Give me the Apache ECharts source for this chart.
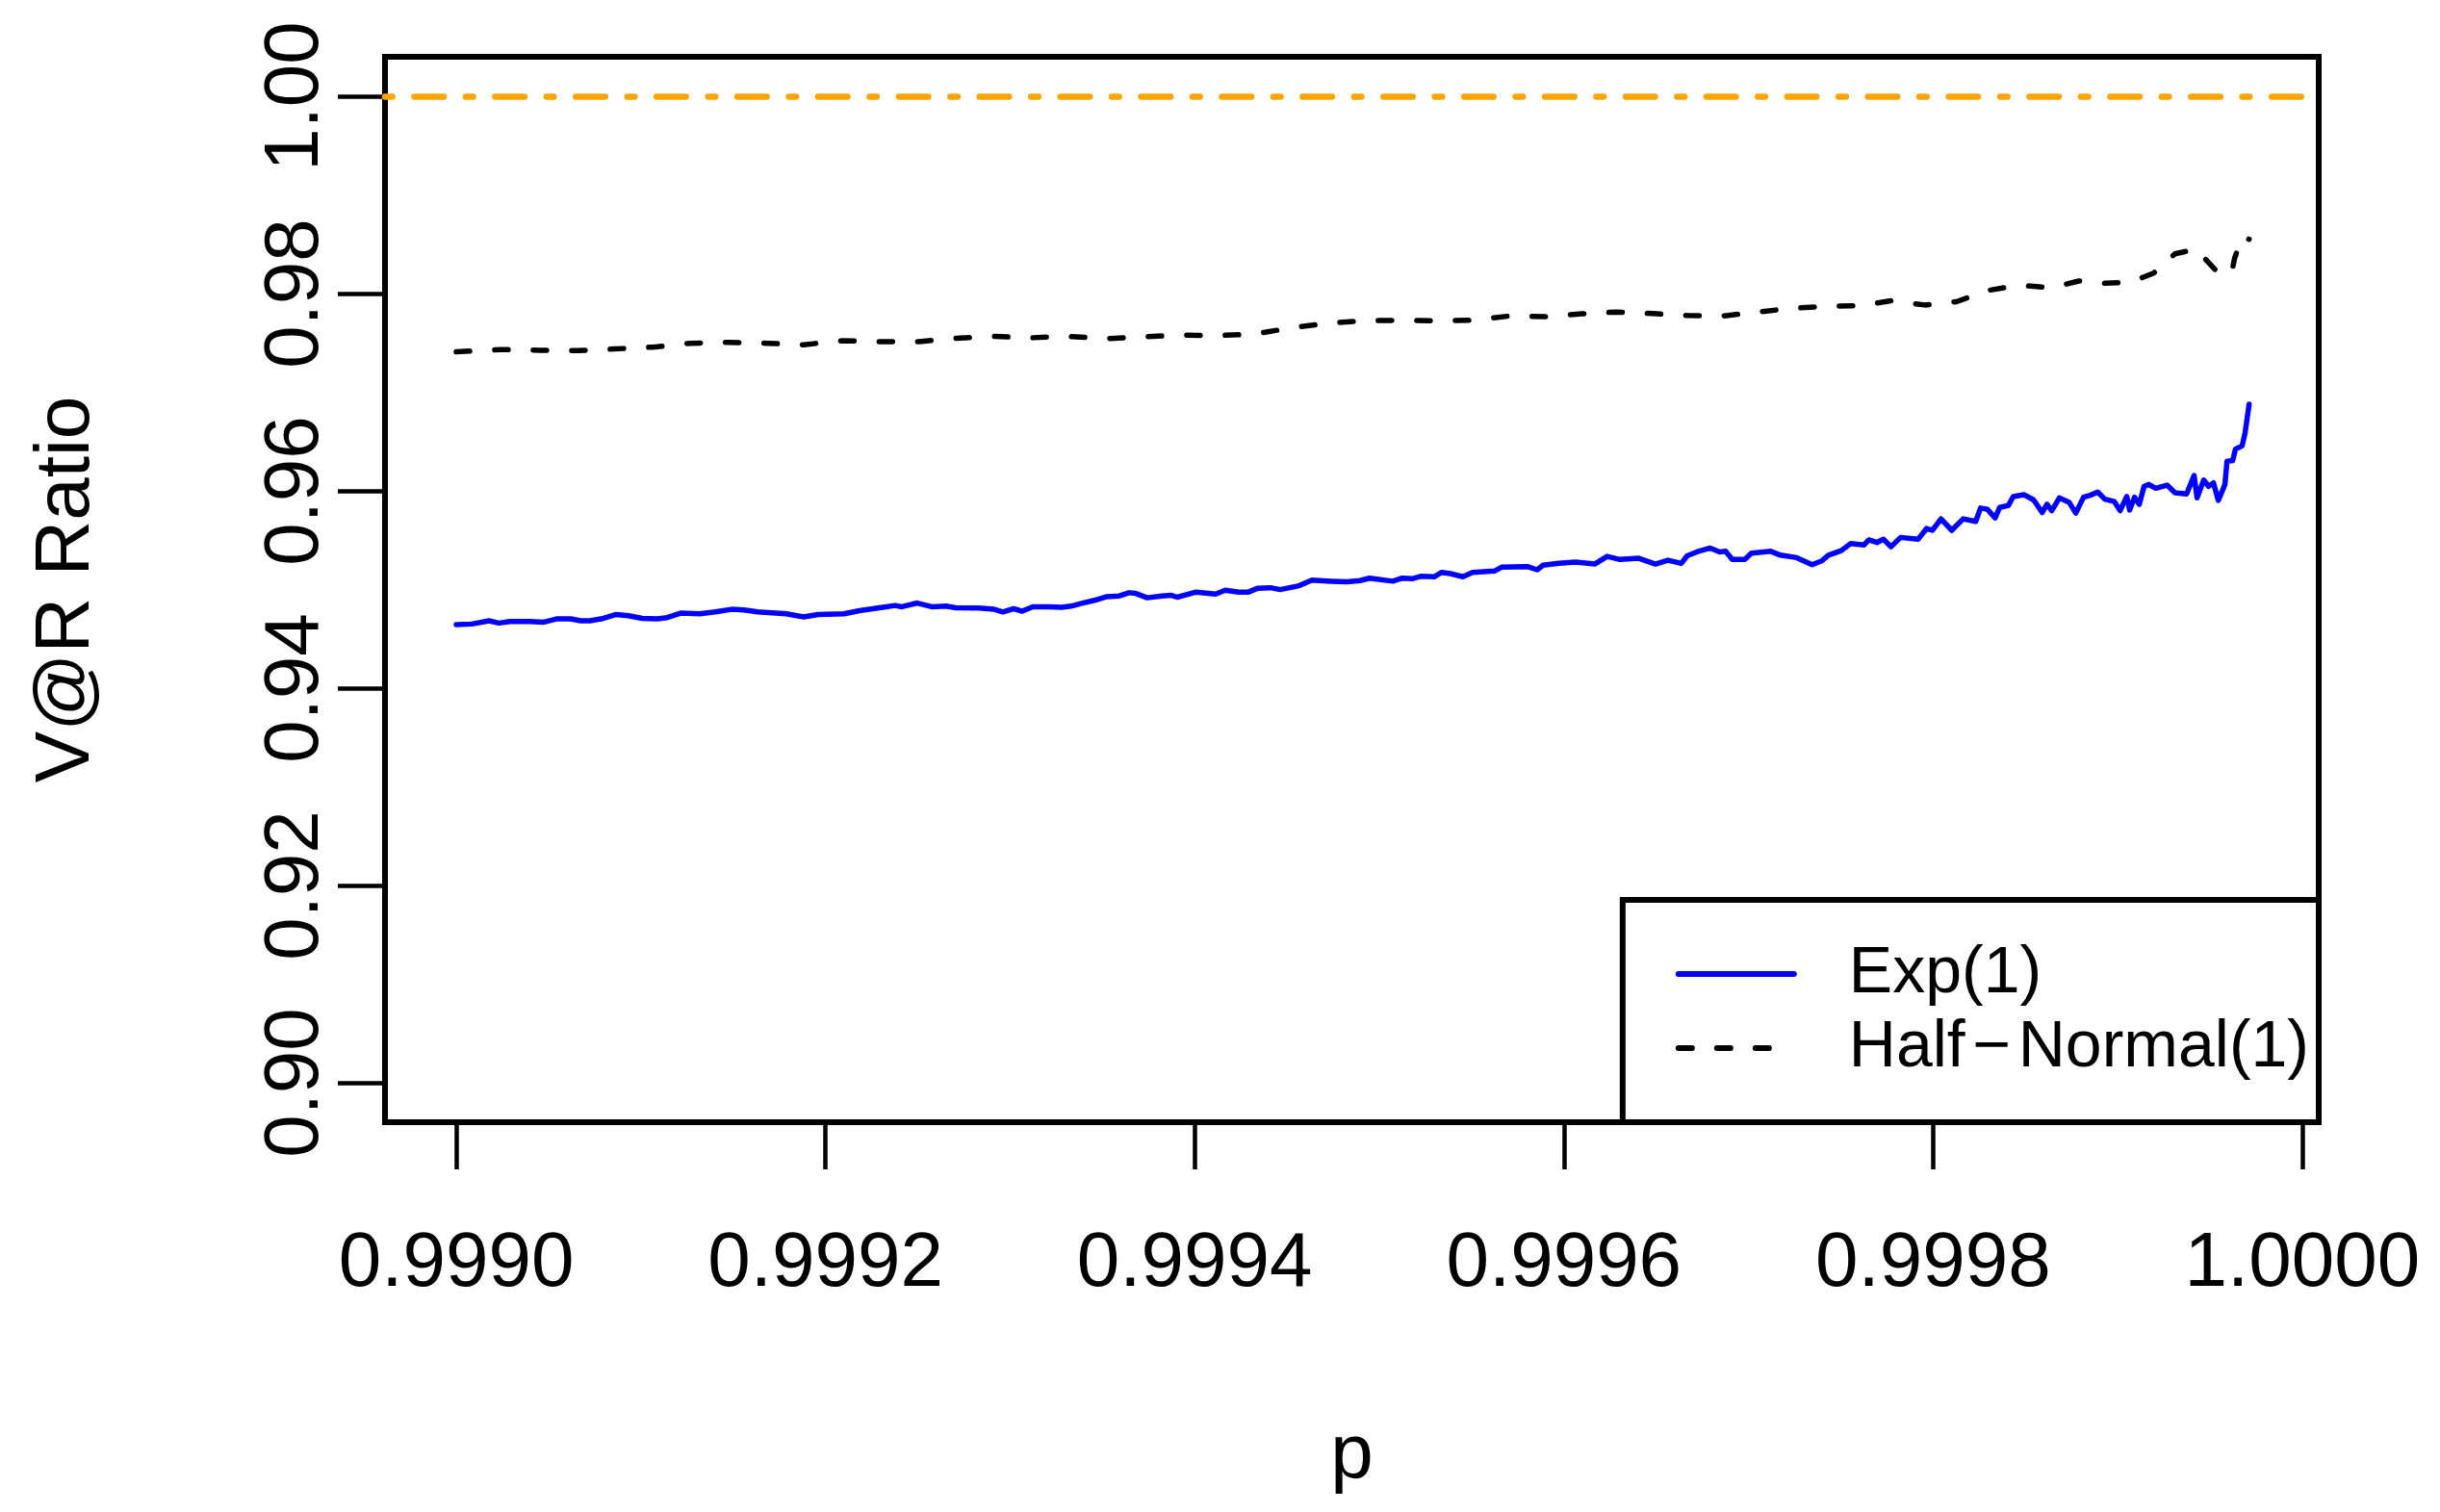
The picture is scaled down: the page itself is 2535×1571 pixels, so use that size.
<!DOCTYPE html>
<html>
<head>
<meta charset="utf-8">
<script src="https://cdn.jsdelivr.net/npm/echarts@6/dist/echarts.min.js"></script>
<style>
html,body{margin:0;padding:0;background:#fff;}
#c{width:2535px;height:1571px;}
</style>
</head>
<body>
<div id="c"></div>
<script>
// ---- data ----
const seriesNames = ['Exp(1)', 'Half\u2212Normal(1)'];
const xTicks = [0.9990, 0.9992, 0.9994, 0.9996, 0.9998, 1.0000];
const yTicks = [0.90, 0.92, 0.94, 0.96, 0.98, 1.00];
const refValue = 1.00;

const expP = [0.9990000,0.9990084,0.9990178,0.9990230,0.9990292,0.9990397,0.9990475,0.9990542,0.9990621,0.9990673,
0.9990725,0.9990798,0.9990866,0.9990933,0.9991007,0.9991090,0.9991142,0.9991215,0.9991319,0.9991403,
0.9991491,0.9991559,0.9991632,0.9991788,0.9991882,0.9991960,0.9992101,0.9992184,0.9992310,0.9992377,
0.9992414,0.9992497,0.9992575,0.9992654,0.9992706,0.9992831,0.9992914,0.9992961,0.9993019,0.9993066,
0.9993123,0.9993212,0.9993279,0.9993331,0.9993383,0.9993457,0.9993524,0.9993592,0.9993644,0.9993681,
0.9993743,0.9993822,0.9993874,0.9993905,0.9994008,0.9994113,0.9994165,0.9994239,0.9994291,0.9994342,
0.9994410,0.9994463,0.9994566,0.9994635,0.9994739,0.9994827,0.9994895,0.9994947,0.9995073,0.9995124,
0.9995182,0.9995228,0.9995297,0.9995338,0.9995385,0.9995453,0.9995505,0.9995624,0.9995662,0.9995802,
0.9995855,0.9995886,0.9995974,0.9996063,0.9996167,0.9996234,0.9996303,0.9996406,0.9996496,0.9996563,
0.9996636,0.9996668,0.9996720,0.9996792,0.9996844,0.9996876,0.9996912,0.9996980,0.9997016,0.9997121,
0.9997173,0.9997261,0.9997345,0.9997397,0.9997433,0.9997502,0.9997553,0.9997626,0.9997652,0.9997695,
0.9997731,0.9997772,0.9997824,0.9997919,0.9997965,0.9997996,0.9998043,0.9998101,0.9998163,0.9998231,
0.9998257,0.9998294,0.9998336,0.9998361,0.9998408,0.9998434,0.9998492,0.9998544,0.9998591,0.9998617,
0.9998643,0.9998684,0.9998737,0.9998773,0.9998815,0.9998851,0.9998892,0.9998930,0.9998982,0.9999013,
0.9999049,0.9999065,0.9999091,0.9999117,0.9999143,0.9999169,0.9999206,0.9999268,0.9999310,0.9999373,
0.9999414,0.9999430,0.9999466,0.9999492,0.9999519,0.9999545,0.9999581,0.9999592,0.9999623,0.9999638,
0.9999674,0.9999690,0.9999712];
const expV = [0.94644,0.94650,0.94683,0.94660,0.94676,0.94676,0.94669,0.94702,0.94702,0.94683,
0.94683,0.94708,0.94747,0.94734,0.94708,0.94702,0.94715,0.94760,0.94754,0.94773,
0.94799,0.94793,0.94773,0.94754,0.94722,0.94747,0.94754,0.94786,0.94819,0.94838,
0.94825,0.94863,0.94825,0.94831,0.94815,0.94812,0.94799,0.94773,0.94805,0.94780,
0.94825,0.94825,0.94819,0.94831,0.94858,0.94890,0.94928,0.94935,0.94967,0.94960,
0.94916,0.94935,0.94941,0.94922,0.94974,0.94954,0.94993,0.94974,0.94974,0.95013,
0.95018,0.94999,0.95038,0.95096,0.95084,0.95077,0.95090,0.95115,0.95084,0.95115,
0.95110,0.95135,0.95129,0.95174,0.95161,0.95129,0.95174,0.95187,0.95226,0.95232,
0.95200,0.95246,0.95265,0.95278,0.95258,0.95336,0.95304,0.95316,0.95258,0.95297,
0.95265,0.95342,0.95381,0.95420,0.95381,0.95387,0.95304,0.95304,0.95368,0.95387,
0.95348,0.95323,0.95251,0.95290,0.95348,0.95394,0.95465,0.95452,0.95503,0.95476,
0.95509,0.95433,0.95528,0.95509,0.95619,0.95600,0.95716,0.95600,0.95716,0.95690,
0.95826,0.95813,0.95726,0.95832,0.95852,0.95942,0.95961,0.95910,0.95780,0.95864,
0.95799,0.95929,0.95884,0.95774,0.95935,0.95955,0.95988,0.95916,0.95891,0.95799,
0.95942,0.95806,0.95935,0.95864,0.96046,0.96065,0.96026,0.96058,0.95981,0.95968,
0.96155,0.95929,0.96110,0.96046,0.96081,0.95903,0.96065,0.96300,0.96306,0.96423,
0.96456,0.96587,0.96878];

const hnP = [0.9990000,0.9990240,0.9990449,0.9990657,0.9990855,0.9991064,0.9991267,0.9991476,0.9991684,0.9991882,
0.9992091,0.9992289,0.9992508,0.9992701,0.9992899,0.9993107,0.9993305,0.9993509,0.9993707,0.9993915,
0.9994113,0.9994316,0.9994509,0.9994708,0.9994906,0.9995104,0.9995307,0.9995505,0.9995703,0.9995896,
0.9996094,0.9996287,0.9996480,0.9996668,0.9996860,0.9997053,0.9997240,0.9997433,0.9997616,0.9997772,
0.9997955,0.9998127,0.9998294,0.9998460,0.9998643,0.9998789,0.9998930,0.9999075,0.9999195,0.9999310,
0.9999425,0.9999529,0.9999617,0.9999633,0.9999674,0.9999712];
const hnV = [0.97409,0.97432,0.97425,0.97422,0.97438,0.97457,0.97496,0.97506,0.97496,0.97481,
0.97522,0.97513,0.97513,0.97545,0.97568,0.97551,0.97568,0.97542,0.97561,0.97578,
0.97574,0.97587,0.97648,0.97697,0.97723,0.97729,0.97723,0.97729,0.97772,0.97765,
0.97794,0.97813,0.97797,0.97777,0.97772,0.97813,0.97852,0.97871,0.97878,0.97927,
0.97884,0.97917,0.98030,0.98085,0.98059,0.98127,0.98104,0.98117,0.98208,0.98402,
0.98451,0.98240,0.98201,0.98356,0.98580,0.98550];

// ---- chart ----
const FONT = '"Liberation Sans", Arial, Helvetica, sans-serif';
const chart = echarts.init(document.getElementById('c'), null, {renderer: 'canvas'});
const expData = expP.map((p, i) => [p, expV[i]]);
const hnData = hnP.map((p, i) => [p, hnV[i]]);

chart.setOption({
  animation: false,
  backgroundColor: '#ffffff',
  grid: {
    left: 400, right: 126, top: 59, bottom: 405,
    show: true, borderColor: '#000', borderWidth: 6, backgroundColor: 'transparent',
    containLabel: false, outerBoundsMode: 'none'
  },
  xAxis: {
    type: 'value',
    min: 0.9989614, max: 1.0000089,
    name: 'p', nameLocation: 'middle', nameGap: 307,
    nameTextStyle: {fontFamily: FONT, fontSize: 80, color: '#000'},
    axisLine: {show: false},
    splitLine: {show: false},
    axisTick: {show: true, inside: false, length: 49, customValues: xTicks,
               lineStyle: {color: '#000', width: 4.5}},
    axisLabel: {show: true, customValues: xTicks, margin: 108,
                fontFamily: FONT, fontSize: 80, color: '#000',
                formatter: v => v.toFixed(4)}
  },
  yAxis: {
    type: 'value',
    min: 0.896, max: 1.004,
    name: 'V@R Ratio', nameLocation: 'middle', nameGap: 290, nameRotate: 90,
    nameTextStyle: {fontFamily: FONT, fontSize: 80, color: '#000'},
    axisLine: {show: false},
    splitLine: {show: false},
    axisTick: {show: true, inside: false, length: 49, customValues: yTicks,
               lineStyle: {color: '#000', width: 4.5}},
    axisLabel: {show: true, customValues: yTicks, margin: 52, rotate: 90,
                fontFamily: FONT, fontSize: 80, color: '#000',
                formatter: v => v.toFixed(2)}
  },
  legend: {
    data: seriesNames,
    orient: 'vertical',
    right: 126, bottom: 405,
    padding: [38.5, 10, 38.5, 55],
    itemGap: 0,
    itemWidth: 120, itemHeight: 77,
    borderColor: '#000', borderWidth: 6, borderRadius: 0,
    backgroundColor: '#fff',
    selectedMode: false,
    itemStyle: {opacity: 0},
    lineStyle: {width: 6},
    formatter: name => name.replace('\u2212', '{m|\u2212}'),
    textStyle: {fontFamily: FONT, fontSize: 68, color: '#000', lineHeight: 77,
                padding: [0, 0, 0, 52],
                rich: {m: {fontFamily: FONT, fontSize: 68, color: '#000', lineHeight: 77,
                           width: 55, align: 'center'}}}
  },
  series: [
    {
      name: seriesNames[0], type: 'line', data: expData,
      symbol: 'none', showSymbol: false, smooth: false, sampling: 'none',
      lineStyle: {color: '#0000FF', width: 5.5, cap: 'round', join: 'round'},
      itemStyle: {color: '#0000FF'},
      z: 3
    },
    {
      name: seriesNames[1], type: 'line', data: hnData,
      symbol: 'none', showSymbol: false, smooth: false, sampling: 'none',
      lineStyle: {color: '#000000', width: 5.5, type: [14, 26], cap: 'round', join: 'round'},
      itemStyle: {color: '#000000'},
      z: 3,
      markLine: {
        silent: true, symbol: 'none', animation: false,
        label: {show: false},
        lineStyle: {color: '#FFA500', width: 6.5, type: [7.6, 22.9, 30.5, 22.9], cap: 'round'},
        emphasis: {disabled: true},
        data: [{yAxis: refValue}]
      }
    }
  ]
});
</script>
</body>
</html>
